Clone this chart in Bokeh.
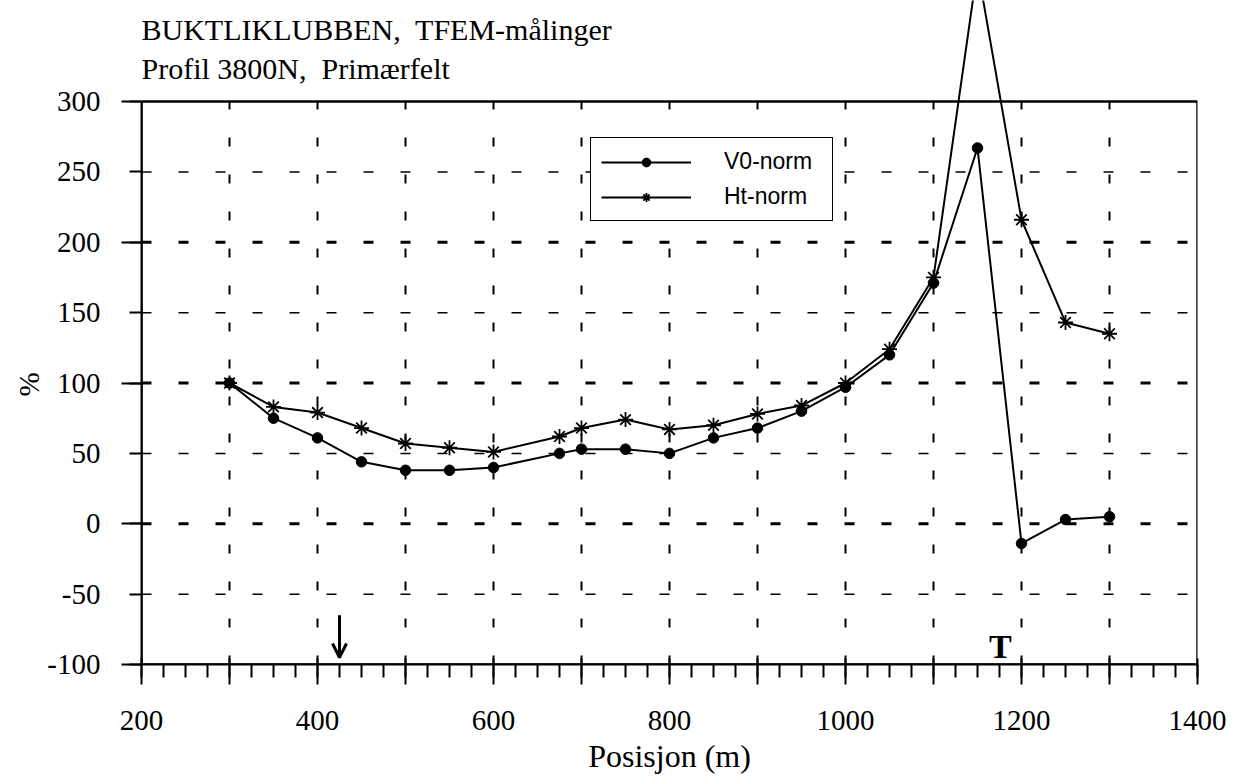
from bokeh.plotting import figure
from bokeh.models import (FixedTicker, Legend, LegendItem, Label, Arrow, OpenHead,
                          BoxAnnotation, Range1d, Title)
from bokeh.embed import file_html
from bokeh.resources import INLINE

# ---- data ----
position = [300, 350, 400, 450, 500, 550, 600, 675, 700, 750, 800, 850, 900, 950,
            1000, 1050, 1100, 1150, 1200, 1250, 1300]
v0_norm = [100, 75, 61, 44, 38, 38, 40, 50, 53, 53, 50, 61, 68, 80,
           97, 120, 171, 267, -14, 3, 5]
ht_norm = [100, 83, 79, 68, 57, 54, 51, 62, 68, 74, 67, 70, 78, 84,
           100, 124, 175, 395, 216, 143, 135]

x_major = list(range(200, 1401, 100))
x_minor = list(range(200, 1401, 25))
x_labelled = list(range(200, 1401, 200))
y_major = list(range(-100, 301, 50))
y_long = list(range(-100, 301, 100))
vgrid = list(range(300, 1301, 100))
hgrid_thick = [0, 100, 200]
hgrid_thin = [-50, 50, 150, 250]

title_1 = "BUKTLIKLUBBEN,\u00a0 TFEM-målinger"
title_2 = "Profil 3800N,\u00a0 Primærfelt"

SERIF = "Liberation Serif"
SANS = "Liberation Sans"

p = figure(width=1238, height=777, x_range=Range1d(200, 1400), y_range=Range1d(-100, 371.76),
           output_backend="svg", toolbar_location=None, title=None,
           min_border_left=141, min_border_right=41, min_border_top=0, min_border_bottom=113)
p.outline_line_color = None
p.xgrid.visible = False
p.ygrid.visible = False
p.background_fill_color = "white"
p.border_fill_color = "white"

# dashed grid lines (only inside the -100..300 box)
p.segment(x0=vgrid, y0=[-100] * len(vgrid), x1=vgrid, y1=[300] * len(vgrid),
          line_color="black", line_width=2, line_dash="9 28")
p.segment(x0=[200] * len(hgrid_thick), y0=hgrid_thick, x1=[1400] * len(hgrid_thick), y1=hgrid_thick,
          line_color="black", line_width=3, line_dash="10 27")
p.segment(x0=[200] * len(hgrid_thin), y0=hgrid_thin, x1=[1400] * len(hgrid_thin), y1=hgrid_thin,
          line_color="black", line_width=1.5, line_dash="10 27")

# data
v0_line = p.line(position, v0_norm, line_color="black", line_width=2)
v0_pts = p.scatter(position, v0_norm, marker="circle", size=10.5, fill_color="black", line_color="black")
ht_line = p.line(position, ht_norm, line_color="black", line_width=2)
ht_pts = p.scatter(position, ht_norm, marker="asterisk", size=15, line_color="black", line_width=1.8)

# frame
p.add_layout(BoxAnnotation(left=200, right=1400, bottom=-100, top=300, fill_alpha=0,
                           line_color="black", line_alpha=1, line_width=2.5))

# axes
xa = p.xaxis[0]
xa.ticker = FixedTicker(ticks=x_major, minor_ticks=x_minor)
xa.major_label_overrides = {t: ("" if t not in x_labelled else str(t)) for t in x_major}
xa.major_tick_out = 20
xa.major_tick_in = 6
xa.minor_tick_out = 13
xa.minor_tick_in = 0
xa.major_tick_line_width = 2
xa.minor_tick_line_width = 2
xa.major_tick_line_color = "black"
xa.minor_tick_line_color = "black"
xa.axis_line_width = 2
xa.axis_line_color = "black"
xa.major_label_text_font = SERIF
xa.major_label_text_font_size = "29px"
xa.major_label_text_color = "black"
xa.major_label_standoff = 26
xa.axis_label = "Posisjon (m)"
xa.axis_label_text_font = SERIF
xa.axis_label_text_font_size = "32px"
xa.axis_label_text_font_style = "normal"
xa.axis_label_text_color = "black"
xa.axis_label_standoff = 5

ya = p.yaxis[0]
ya.bounds = (-100, 300)
ya.ticker = FixedTicker(ticks=y_major, minor_ticks=y_long)
ya.major_label_overrides = {t: str(t) for t in y_major}
ya.major_tick_out = 12
ya.major_tick_in = 0
ya.minor_tick_out = 20
ya.minor_tick_in = 0
ya.major_tick_line_width = 2
ya.minor_tick_line_width = 2
ya.major_tick_line_color = "black"
ya.minor_tick_line_color = "black"
ya.axis_line_width = 2
ya.axis_line_color = "black"
ya.major_label_text_font = SERIF
ya.major_label_text_font_size = "29px"
ya.major_label_text_color = "black"
ya.major_label_standoff = 21

# y axis title, shifted so that it sits beside the -100..300 range
p.add_layout(Title(text="%", align="left", offset=268, standoff=0,
                   text_font=SERIF, text_font_size="29px", text_font_style="normal",
                   text_color="black"), "left")

# legend
legend = Legend(items=[LegendItem(label="V0-norm", renderers=[v0_line, v0_pts]),
                       LegendItem(label="Ht-norm", renderers=[ht_line, ht_pts])],
                location=(449, 443))
legend.border_line_color = "black"
legend.border_line_alpha = 1
legend.border_line_width = 1.5
legend.background_fill_color = "white"
legend.background_fill_alpha = 1
legend.label_text_font = SANS
legend.label_text_font_size = "23px"
legend.label_text_color = "black"
legend.glyph_width = 90
legend.glyph_height = 22
legend.label_height = 22
legend.label_width = 98
legend.spacing = 8
legend.padding = 10
legend.margin = 0
legend.label_standoff = 33
p.add_layout(legend)

# titles
p.add_layout(Label(x=200, y=351, text=title_1, text_font=SERIF, text_font_size="30px",
                   text_align="left", text_baseline="alphabetic", text_color="black"))
p.add_layout(Label(x=200, y=323.5, text=title_2, text_font=SERIF, text_font_size="30px",
                   text_align="left", text_baseline="alphabetic", text_color="black"))

# annotations
p.add_layout(Label(x=1176, y=-87, text="T", text_font=SERIF, text_font_size="34px",
                   text_font_style="bold", text_align="center", text_baseline="alphabetic",
                   text_color="black"))
p.add_layout(Arrow(end=OpenHead(size=14, line_width=3, line_color="black"),
                   x_start=425, y_start=-65, x_end=425, y_end=-95,
                   line_width=3, line_color="black"))

open("out.html", "w").write(file_html(p, INLINE))
